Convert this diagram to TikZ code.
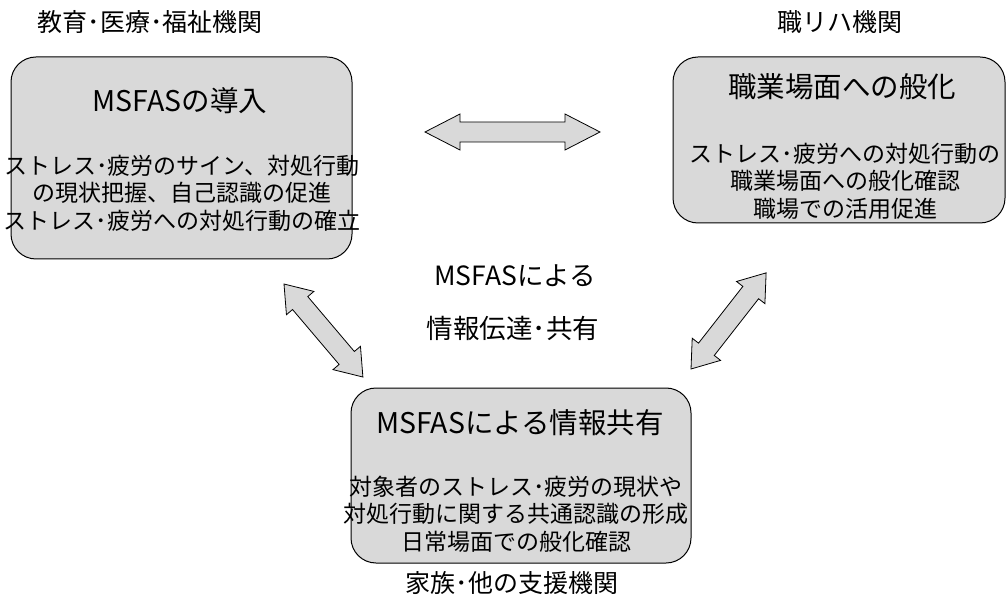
\documentclass[tikz,border=0pt]{standalone}
\usepackage{fontspec}
\newfontfamily\jp{Noto Sans CJK JP}
\definecolor{boxgray}{HTML}{D9D9D9}
\tikzset{
  box/.style={draw=black, line width=1pt, fill=boxgray, rounded corners=25pt, inner sep=0pt},
  ttl/.style={font=\jp\fontsize{28.5}{33}\selectfont, inner sep=0pt, align=center},
  body/.style={font=\jp\fontsize{23}{27.5}\selectfont, inner sep=0pt, align=center},
  lbl/.style={font=\jp\fontsize{25}{29}\selectfont, inner sep=0pt},
  mid/.style={font=\jp\fontsize{26.5}{30}\selectfont, inner sep=0pt},
  blockarrow/.style={draw=black, line width=0.8pt, fill=boxgray, line join=miter},
  pics/dblarrow/.style n args={2}{code={
    \draw[blockarrow] (0,0) -- (#2,18) -- (#2,10) -- ({#1-#2},10) -- ({#1-#2},18) -- (#1,0)
      -- ({#1-#2},-18) -- ({#1-#2},-10) -- (#2,-10) -- (#2,-18) -- cycle;}}
}
\begin{document}
\begin{tikzpicture}[x=1pt,y=1pt]
\useasboundingbox (0,0) rectangle (1008,600);
% boxes
\node[box, minimum width=341, minimum height=202] (leftbox) at (181.5,442) {};
\node[box, minimum width=332, minimum height=166] (rightbox) at (839,460) {};
\node[box, minimum width=340, minimum height=175] (bottombox) at (521,124.5) {};
% group labels
\node[lbl] (lbl1) at (150,578) {教育･医療･福祉機関};
\node[lbl] (lbl2) at (840,578) {職リハ機関};
\node[lbl] (lbl3) at (512,17) {家族･他の支援機関};
% box texts
\node[ttl] (t1) at (180,499) {MSFASの導入};
\node[body] (b1) at (182,407) {ストレス･疲労のサイン、対処行動\\の現状把握、自己認識の促進\\ストレス･疲労への対処行動の確立};
\node[ttl] (t2) at (842,513) {職業場面への般化};
\node[body] (b2) at (845,419) {ストレス･疲労への対処行動の\\職業場面への般化確認\\職場での活用促進};
\node[ttl] (t3) at (520,177) {MSFASによる情報共有};
\node[body] (b3) at (516,86) {対象者のストレス･疲労の現状や\\対処行動に関する共通認識の形成\\日常場面での般化確認};
% center text
\node[mid] (c1) at (515,324) {MSFASによる};
\node[mid] (c2) at (513,272) {情報伝達･共有};
% block arrows
\coordinate (ha) at (425,468);
\coordinate (la) at (284,316);
\coordinate (ra) at (691,231);
\pic at (ha) {dblarrow={175}{35}};
\pic[rotate=-49.7] at (la) {dblarrow={122}{25}};
\pic[rotate=52] at (ra) {dblarrow={122}{25}};
\end{tikzpicture}
\end{document}
